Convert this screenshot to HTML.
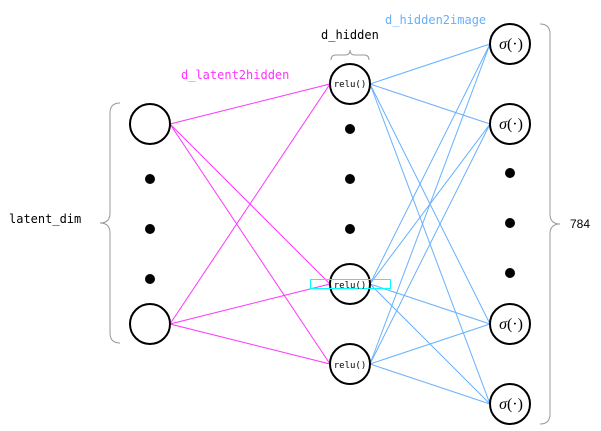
<!DOCTYPE html>
<html><head><style>body{margin:0;background:#fff}</style></head><body>
<svg width="601" height="426" xmlns="http://www.w3.org/2000/svg" font-family="DejaVu Sans Mono, Liberation Mono, monospace">
<g stroke="#ff33ff" stroke-width="1">
<line x1="170" y1="124" x2="330" y2="84"/><line x1="170" y1="124" x2="330" y2="284"/><line x1="170" y1="124" x2="330" y2="364"/>
<line x1="170" y1="324" x2="330" y2="84"/><line x1="170" y1="324" x2="330" y2="284"/><line x1="170" y1="324" x2="330" y2="364"/>
</g>
<g stroke="#66b0ff" stroke-width="1">
<line x1="370" y1="84" x2="490" y2="44"/><line x1="370" y1="84" x2="490" y2="124"/><line x1="370" y1="84" x2="490" y2="324"/><line x1="370" y1="84" x2="490" y2="404"/>
<line x1="370" y1="284" x2="490" y2="44"/><line x1="370" y1="284" x2="490" y2="124"/><line x1="370" y1="284" x2="490" y2="324"/><line x1="370" y1="284" x2="490" y2="404"/>
<line x1="370" y1="364" x2="490" y2="44"/><line x1="370" y1="364" x2="490" y2="124"/><line x1="370" y1="364" x2="490" y2="324"/><line x1="370" y1="364" x2="490" y2="404"/>
</g>
<g fill="none" stroke="#000" stroke-width="2">
<circle cx="150" cy="124" r="20"/><circle cx="150" cy="324" r="20"/>
<circle cx="350" cy="84" r="20"/><circle cx="350" cy="284" r="20"/><circle cx="350" cy="364" r="20"/>
<circle cx="510" cy="44" r="20"/><circle cx="510" cy="124" r="20"/><circle cx="510" cy="324" r="20"/><circle cx="510" cy="404" r="20"/>
</g>
<g fill="#000">
<circle cx="150" cy="179" r="5"/><circle cx="150" cy="229" r="5"/><circle cx="150" cy="279" r="5"/>
<circle cx="350" cy="129" r="5"/><circle cx="350" cy="179" r="5"/><circle cx="350" cy="229" r="5"/>
<circle cx="510" cy="173" r="5"/><circle cx="510" cy="223" r="5"/><circle cx="510" cy="273" r="5"/>
</g>
<rect x="310.5" y="279.5" width="80" height="9" fill="none" stroke="#00ffff" stroke-width="1"/>
<g fill="none" stroke="#999" stroke-width="1">
<path d="M120,103 Q110,103 110,113 L110,213 Q110,223 100,223 Q110,223 110,233 L110,333 Q110,343 120,343"/>
<path d="M540,24 Q550,24 550,34 L550,214 Q550,224 560,224 Q550,224 550,234 L550,414 Q550,424 540,424"/>
<path d="M331,60 Q331,55 336,55 L345,55 Q350,55 350,50 Q350,55 355,55 L364,55 Q369,55 369,60"/>
</g>
<g font-size="12">
<text x="9" y="223" fill="#000">latent_dim</text>
<text x="570" y="228" fill="#000" font-family="Liberation Sans, sans-serif">784</text>
<text x="321" y="39" fill="#000">d_hidden</text>
<text x="181" y="79" fill="#ff33ff">d_latent2hidden</text>
<text x="385" y="24" fill="#66b0ff">d_hidden2image</text>
</g>
<g font-size="9" text-anchor="middle" fill="#000">
<text x="350" y="87">relu()</text><text x="350" y="288">relu()</text><text x="350" y="368">relu()</text>
</g>
<g font-size="16" text-anchor="middle" fill="#000" font-family="Liberation Serif, serif">
<text x="511" y="49"><tspan font-style="italic">σ</tspan>(·)</text>
<text x="511" y="129"><tspan font-style="italic">σ</tspan>(·)</text>
<text x="511" y="329"><tspan font-style="italic">σ</tspan>(·)</text>
<text x="511" y="409"><tspan font-style="italic">σ</tspan>(·)</text>
</g>
</svg>
</body></html>
